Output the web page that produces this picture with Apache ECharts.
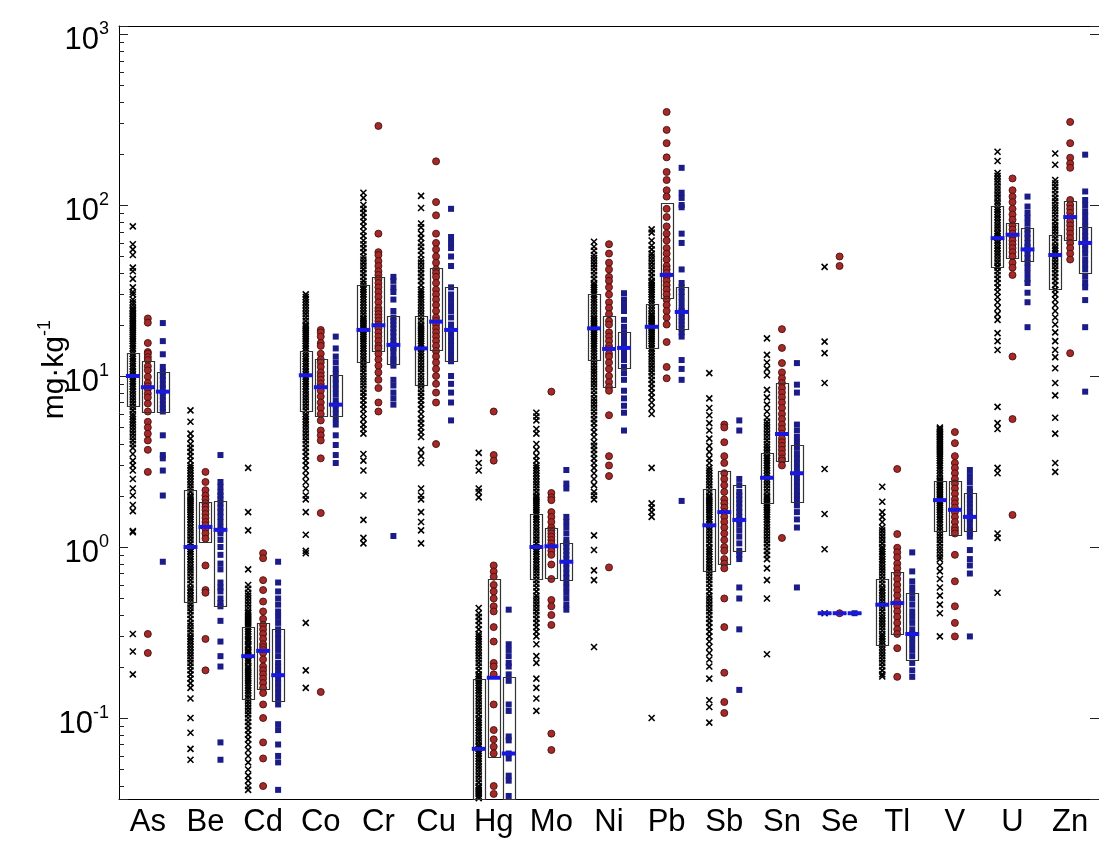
<!DOCTYPE html>
<html><head><meta charset="utf-8">
<script src="https://cdn.jsdelivr.net/npm/echarts@6.0.0/dist/echarts.min.js"></script>
<style>html,body{margin:0;padding:0;background:#fff}#c{width:1099px;height:841px}</style>
</head><body><div id="c"></div><script>
const categories = ['As','Be','Cd','Co','Cr','Cu','Hg','Mo','Ni','Pb','Sb','Sn','Se','Tl','V','U','Zn'];

const blackPts = [
 [75,59,55,51,43,41,37,33,31,30,28,27,26,25,24.5,24,23.5,23,22.5,22,21.5,21,20.5,20,19.5,19,18.5,18,17.5,17,16.5,16,15.5,15,14.5,14,13.5,13,12.6,12.2,11.8,11.4,11,10.6,10.2,9.9,9.6,9.3,9,8.7,8.4,8.1,7.8,7.5,7.2,6.9,6.6,6.3,6,5.8,5.6,5.4,5.2,5,4.8,4.6,4.4,4.2,4,3.8,3.5,3.2,3,2.8,2.5,2.2,2.0,1.76,1.62,1.24,1.22,0.31,0.245,0.18],
 [6.3,5.4,4.6,4.3,4.0,3.8,3.6,3.4,3.2,3.0,2.9,2.8,2.7,2.6,2.5,2.4,2.3,2.2,2.1,2.0,1.95,1.9,1.85,1.8,1.75,1.7,1.65,1.6,1.55,1.5,1.45,1.4,1.35,1.3,1.25,1.2,1.15,1.1,1.05,1.0,0.97,0.94,0.91,0.88,0.85,0.82,0.79,0.76,0.73,0.7,0.67,0.64,0.61,0.58,0.56,0.54,0.52,0.5,0.48,0.46,0.44,0.42,0.4,0.38,0.36,0.345,0.33,0.315,0.3,0.29,0.28,0.27,0.26,0.25,0.24,0.23,0.22,0.21,0.2,0.19,0.18,0.17,0.16,0.15,0.13,0.1,0.082,0.066,0.057],
 [2.9,1.6,1.25,0.74,0.6,0.57,0.54,0.52,0.5,0.48,0.46,0.44,0.42,0.41,0.4,0.39,0.38,0.37,0.36,0.35,0.34,0.33,0.32,0.31,0.3,0.29,0.285,0.28,0.27,0.265,0.26,0.25,0.245,0.24,0.235,0.23,0.22,0.215,0.21,0.2,0.195,0.19,0.185,0.18,0.175,0.17,0.165,0.16,0.155,0.15,0.145,0.14,0.135,0.13,0.125,0.12,0.115,0.11,0.105,0.1,0.095,0.09,0.085,0.08,0.075,0.07,0.065,0.06,0.055,0.05,0.046,0.043,0.04,0.038],
 [30,29,28,27,26,25,24,23,22,21,20,19.5,19,18.5,18,17.5,17,16.5,16,15.5,15,14.5,14,13.5,13,12.6,12.2,11.8,11.4,11,10.6,10.2,9.9,9.6,9.3,9,8.7,8.4,8.1,7.8,7.5,7.2,6.9,6.6,6.3,6,5.8,5.6,5.4,5.2,5,4.8,4.6,4.4,4.2,4,3.8,3.6,3.4,3.2,3.0,2.8,2.6,2.4,2.2,2.0,1.9,1.6,1.18,0.95,0.92,0.36,0.19,0.15],
 [118,110,100,95,90,85,80,75,70,66,62,59,56,53,50,48,46,44,42,40,38,36,34.5,33,32,31,30,29,28,27,26,25,24,23,22,21.5,21,20.5,20,19.5,19,18.5,18,17.5,17,16.5,16,15.5,15,14.5,14,13.5,13,12.5,12,11.5,11,10.5,10,9.6,9.2,8.8,8.4,8,7.6,7.2,6.8,6.4,6,5.6,5.2,4.9,4.6,3.5,3.2,2.8,2.0,1.44,1.13,1.05],
 [113,96,78,74,68,64,60,57,54,51,48,46,44,42,40,38,36,34,32,31,30,29,28,27,26,25,24,23,22,21,20,19.5,19,18.5,18,17.5,17,16.5,16,15.5,15,14.5,14,13.5,13,12.5,12,11.5,11,10.5,10,9.6,9.2,8.8,8.4,8,7.6,7.2,6.8,6.4,6,5.6,5.3,5,4.7,4.4,3.7,3.4,3.1,2.2,2.0,1.9,1.6,1.4,1.25,1.05],
 [3.55,3.1,2.8,2.2,2.1,1.95,0.44,0.41,0.39,0.37,0.35,0.33,0.31,0.3,0.29,0.28,0.27,0.26,0.25,0.24,0.23,0.22,0.21,0.2,0.19,0.18,0.175,0.17,0.165,0.16,0.155,0.15,0.145,0.14,0.135,0.13,0.125,0.12,0.115,0.11,0.105,0.1,0.097,0.094,0.091,0.088,0.085,0.082,0.079,0.076,0.073,0.07,0.068,0.066,0.064,0.062,0.06,0.058,0.056,0.054,0.052,0.05,0.048,0.046,0.044,0.042,0.04,0.039,0.038,0.037,0.036,0.035,0.034],
 [6.1,5.8,5.5,4.9,4.6,4.0,3.7,3.4,3.2,3.0,2.9,2.8,2.7,2.6,2.5,2.4,2.3,2.2,2.1,2.0,1.95,1.9,1.85,1.8,1.75,1.7,1.65,1.6,1.55,1.5,1.45,1.4,1.35,1.3,1.25,1.2,1.15,1.1,1.05,1.0,0.97,0.94,0.91,0.88,0.85,0.82,0.79,0.76,0.73,0.7,0.67,0.64,0.61,0.58,0.55,0.52,0.5,0.48,0.46,0.44,0.42,0.4,0.38,0.36,0.34,0.32,0.3,0.27,0.23,0.21,0.17,0.15,0.13,0.11],
 [61,57,54,51,49,47,45,43,41,39,37,35,34,33,32,31,30,29,28,27,26,25,24,23,22,21.5,21,20.5,20,19.5,19,18.5,18,17.5,17,16.5,16,15.5,15,14.5,14,13.5,13,12.5,12,11.5,11,10.6,10.2,9.8,9.4,9,8.6,8.2,7.8,7.4,7.1,6.8,6.5,6.2,5.9,5.6,5.3,5,4.7,4.4,4.1,3.9,3.7,3.5,3.3,3.1,2.9,2.7,2.5,2.3,2.1,2.0,1.9,1.17,0.96,0.73,0.64,0.26],
 [72,69,62,58,55,52,50,48,46,44,42,40,38,36,35,34,33,32,31,30,29,28,27,26,25,24,23,22.5,22,21.5,21,20.5,20,19.5,19,18.5,18,17.5,17,16.5,16,15.5,15,14.5,14,13.5,13,12.5,12,11.5,11,10.5,10,9.5,9,8.5,8,7.5,7,6.5,6,2.9,1.8,1.7,1.6,1.5,0.1],
 [10.4,7.4,6.5,5.9,5.3,4.8,4.3,3.9,3.6,3.3,3.1,2.9,2.8,2.7,2.6,2.5,2.4,2.3,2.2,2.1,2.0,1.95,1.9,1.85,1.8,1.75,1.7,1.65,1.6,1.55,1.5,1.45,1.4,1.35,1.3,1.25,1.2,1.15,1.1,1.05,1.0,0.97,0.94,0.91,0.88,0.85,0.82,0.79,0.76,0.73,0.7,0.67,0.64,0.61,0.58,0.55,0.52,0.5,0.48,0.46,0.44,0.42,0.4,0.38,0.36,0.34,0.32,0.3,0.28,0.26,0.24,0.22,0.2,0.17,0.127,0.116,0.094],
 [16.6,13.3,12,11,10.1,8.3,7.5,6.8,6.2,5.7,5.4,5.2,5,4.8,4.6,4.4,4.2,4.0,3.85,3.7,3.55,3.4,3.3,3.2,3.1,3.0,2.9,2.8,2.7,2.6,2.5,2.4,2.3,2.2,2.1,2.0,1.95,1.9,1.85,1.8,1.75,1.7,1.65,1.6,1.55,1.5,1.45,1.4,1.35,1.3,1.25,1.2,1.15,1.1,1.05,1.0,0.95,0.9,0.85,0.75,0.64,0.5,0.236],
 [43.5,15.9,13.6,9.1,2.86,1.56,0.97,0.41],
 [2.25,1.84,1.6,1.5,1.4,1.3,1.25,1.2,1.15,1.1,1.05,1.0,0.97,0.94,0.91,0.88,0.85,0.82,0.79,0.76,0.73,0.7,0.67,0.64,0.61,0.58,0.56,0.54,0.52,0.5,0.48,0.46,0.44,0.42,0.4,0.385,0.37,0.355,0.34,0.325,0.31,0.3,0.29,0.28,0.27,0.26,0.25,0.24,0.23,0.22,0.21,0.2,0.19,0.18,0.175],
 [5.0,4.9,4.8,4.7,4.6,4.5,4.4,4.3,4.2,4.1,4.0,3.9,3.8,3.7,3.6,3.5,3.4,3.3,3.2,3.1,3.0,2.9,2.8,2.7,2.6,2.5,2.45,2.4,2.35,2.3,2.25,2.2,2.15,2.1,2.05,2.0,1.95,1.9,1.85,1.8,1.75,1.7,1.65,1.6,1.55,1.5,1.45,1.4,1.35,1.3,1.25,1.2,1.15,1.1,1.05,1.0,0.96,0.92,0.88,0.85,0.78,0.72,0.65,0.58,0.52,0.46,0.41,0.3],
 [205,181,154,148,142,136,130,125,120,115,110,105,101,97,94,91,88,85,82,79,76,73,70,68,66,64,62,60,58,56,54,52,50,48,46,44,43,41,39,37,35,33,31,29,27,25,23,21.3,17.8,16,14.2,6.6,5.3,4.9,2.9,2.7,1.2,1.13,0.54],
 [200,172,140,134,128,122,116,110,105,100,96,92,88,84,80,76,73,70,67,64,61,58,56,54,52,50,48,46,44,42,40,38,36,34,32,30,28,26,24,22,20,18,16,14.2,12.9,11.1,9.1,7.7,5.7,4.6,3.1,2.75]
];

const redPts = [
 [21.7,20.5,15.6,13.8,13.5,12.9,12.4,11.4,10.8,9.9,9.1,8.7,8.4,7.9,7.5,6.9,6.2,5.4,5.0,4.6,4.2,3.7,2.75,0.31,0.24],
 [2.75,2.4,2.15,2.0,1.9,1.8,1.72,1.65,1.56,1.48,1.4,1.34,1.28,1.2,1.12,0.78,0.56,0.54,0.29,0.19],
 [0.92,0.86,0.64,0.56,0.48,0.42,0.38,0.35,0.33,0.31,0.29,0.27,0.26,0.25,0.24,0.22,0.2,0.19,0.18,0.17,0.16,0.15,0.14,0.12,0.1,0.072,0.058,0.04],
 [18.6,18,17,15.6,15,13.5,12.5,12,11.3,10.5,10,9.5,9,8.6,8.2,7.6,7,6.5,6,5.5,4.8,4.5,4.2,3.3,1.58,0.142],
 [290,68,53,51,47,44,41,39,37,35,33,31,29,27,25,24,23,22,21,20,19.5,19,18,17,16,15,14.5,13.5,12.5,11.5,10.5,9.5,8.5,7,6.2],
 [180,104,87,68,60,55,50,46,42,40,38,35,32,30,28,26,24,22,21,20,19,18,17,16,15,14,13,12,11,10,9,8,7,4.0],
 [6.2,3.45,3.2,0.78,0.72,0.67,0.6,0.55,0.5,0.45,0.42,0.34,0.28,0.21,0.2,0.18,0.12,0.085,0.075,0.068,0.062,0.04,0.036],
 [8.1,2.07,1.95,1.88,1.6,1.5,1.4,1.3,1.25,1.2,1.15,1.1,1.05,1.0,0.95,0.9,0.79,0.65,0.49,0.45,0.4,0.35,0.081,0.065],
 [59,52,46,42,38,36,33,30,27,25,23,21,20,18,17,16,15,14.4,13.5,13,12,11,10,9.2,8.6,8.2,5.9,3.4,3.0,2.6,0.76],
 [350,275,230,190,156,140,122,112,95,85,75,68,62,56,52,48,44,42,40,38,36,34,32,30,28,26,24,22,20,15.8,11.3,9.7],
 [5.2,5.0,4.1,3.4,3.1,2.7,2.5,2.3,2.1,1.9,1.8,1.7,1.6,1.5,1.4,1.3,1.2,1.1,1.0,0.95,0.85,0.8,0.75,0.5,0.34,0.184,0.124,0.107],
 [18.8,14.6,11.9,10.5,9.7,9.1,8.5,8,7.5,7,6.5,6,5.6,5.2,4.9,4.6,4.3,4.1,3.9,3.7,3.5,3.3,3.2,3.0,1.13],
 [50,44,0.41],
 [2.86,1.19,0.99,0.93,0.87,0.8,0.75,0.7,0.65,0.6,0.56,0.52,0.48,0.45,0.42,0.39,0.36,0.33,0.31,0.256,0.174],
 [4.7,4.05,3.4,3.1,2.9,2.7,2.5,2.35,2.2,2.05,1.9,1.8,1.7,1.6,1.5,1.4,1.3,1.25,1.2,0.9,0.63,0.45,0.36,0.3],
 [143,122,112,104,95,88,82,76,72,68,65,62,59,56,53,50,46,43,39,13,5.6,1.54],
 [306,230,189,175,165,107,100,95,90,85,80,76,72,68,64,60,56,52,48,13.6]
];

const bluePts = [
 [20.4,16,13.4,11.3,10.6,10,9.5,8.9,8.5,8,7.6,7.2,6.8,6.5,6.2,4.5,3.45,3.3,2.8,2.0,0.82],
 [3.45,2.4,2.25,2.1,2.0,1.9,1.8,1.7,1.6,1.5,1.4,1.3,1.25,1.2,1.1,1.0,0.9,0.8,0.74,0.62,0.58,0.55,0.5,0.47,0.45,0.37,0.28,0.23,0.2,0.072,0.057],
 [0.82,0.62,0.55,0.5,0.46,0.42,0.39,0.36,0.33,0.31,0.29,0.27,0.25,0.23,0.21,0.2,0.19,0.18,0.17,0.16,0.15,0.14,0.13,0.12,0.092,0.085,0.07,0.06,0.055,0.038],
 [17,14.5,13,12,11,10.3,9.6,9,8.4,7.8,7.2,6.8,6.4,6,5.6,5.2,4.5,3.95,3.45,3.1],
 [38,36,33,31,28,24,22,21,20,19,18,17,16,15.2,14.5,14,13,12.5,12,11.5,9.5,8.8,8,7.4,6.8,1.16],
 [95,65,60,56,50,44,33,30,28,26,24,22,20,19,18,17,16,15,14,13,12.2,10,9,8,7,5.5],
 [0.43,0.27,0.25,0.23,0.21,0.2,0.18,0.165,0.12,0.11,0.078,0.074,0.062,0.058,0.046,0.043,0.035],
 [2.82,2.35,2.2,1.5,1.4,1.3,1.2,1.1,1.05,1.0,0.95,0.9,0.85,0.8,0.75,0.7,0.66,0.62,0.58,0.54,0.5,0.46,0.43],
 [30.5,28,26,24,21.3,19.4,18,17,16,15,14.6,14,13.2,12.4,11.3,10.4,9.5,8.2,7.4,6.7,6.1,4.8],
 [165,118,110,100,97,68,60,42,35,33,31,29,27,25,24,23,22,21,20,19,18,17,12.4,11,9.5,1.86],
 [5.5,4.8,2.5,2.3,2.1,2.0,1.9,1.8,1.7,1.6,1.5,1.44,1.35,1.25,1.15,1.05,0.95,0.9,0.85,0.58,0.5,0.33,0.146],
 [11.9,8.9,8.0,5.2,4.8,4.4,4.1,3.8,3.5,3.3,3.1,2.9,2.7,2.55,2.4,2.25,2.1,2.0,1.9,1.75,1.6,1.45,1.3,0.58],
 [0.41],
 [0.93,0.72,0.63,0.58,0.54,0.5,0.46,0.42,0.39,0.36,0.33,0.31,0.29,0.27,0.25,0.23,0.21,0.19,0.174],
 [2.82,2.6,2.4,2.2,2.1,2.0,1.9,1.8,1.7,1.6,1.5,1.45,1.4,1.3,1.25,1.2,1.15,0.96,0.85,0.78,0.7,0.3],
 [112,98,90,84,78,72,68,64,60,57,55,52,49,46,43,40,37,35,30.7,27,19.3],
 [197,120,107,100,92,86,80,75,70,66,62,58,55,52,48,45,42,38,35,33,27.8,19.3,8.1]
];

// [Q1, median, Q3] per element
const blackBox = [[6.7,10,13.7],[0.477,1.0,2.15],[0.129,0.23,0.34],[6.2,10.1,14],[12.1,18.6,34],[8.8,14.5,22.3],[0.03,0.066,0.17],[0.65,1.0,1.56],[12.4,19.0,30],[14.5,19.4,26.2],[0.72,1.34,2.18],[1.82,2.54,3.55],[0.41,0.41,0.41],[0.267,0.46,0.65],[1.24,1.88,2.44],[43.3,64,99],[32.3,51,67]];
const redBox = [[6.2,8.6,12.3],[1.07,1.31,1.84],[0.148,0.247,0.36],[5.85,8.6,12.6],[14.1,19.8,38],[14.1,20.8,42.7],[0.059,0.172,0.65],[0.66,1.01,1.29],[8.6,14.4,22.5],[28.6,39,103],[0.8,1.6,2.8],[3.18,4.58,9.1],[0.41,0.41,0.41],[0.31,0.47,0.71],[1.18,1.65,2.44],[49,67,79],[63,85,106]];
const blueBox = [[6.1,8.1,10.5],[0.45,1.26,1.86],[0.125,0.178,0.33],[5.8,6.8,10.1],[11.8,15.2,22.4],[12.2,18.6,33],[0.03,0.062,0.174],[0.64,0.82,1.06],[11.2,14.6,18.1],[18.8,23.7,33],[0.94,1.44,2.3],[1.84,2.7,3.95],[0.41,0.41,0.41],[0.218,0.31,0.54],[1.24,1.5,2.06],[47,55,73],[40,60,74]];

const yMin = 0.0336, yMax = 1114;
const minorTickValues = [0.04,0.05,0.06,0.07,0.08,0.09,0.2,0.3,0.4,0.5,0.6,0.7,0.8,0.9,2,3,4,5,6,7,8,9,20,30,40,50,60,70,80,90,200,300,400,500,600,700,800,900];

const FONT = "'Liberation Sans',Arial,sans-serif";
const OFFSETS = [-0.26, 0, 0.26];
const HALF = 0.105;

function toPts(list, off){const d=[];list.forEach((vals,i)=>vals.forEach(v=>d.push([i+1+off,v])));return d;}
function toBoxes(list, off){return list.map((b,i)=>[i+1+off,b[0],b[1],b[2]]);}

function renderBox(params, api){
  const x = api.value(0);
  const a = api.coord([x-HALF, api.value(3)]);
  const b = api.coord([x+HALF, api.value(1)]);
  const cs = params.coordSys;
  const bottom = cs.y + cs.height;
  const y0 = Math.max(a[1], cs.y), y1 = Math.min(b[1], bottom);
  return {type:'rect', shape:{x:Math.round(a[0])+0.5, y:Math.round(y0)+0.5, width:Math.round(b[0]-a[0]), height:Math.round(y1-y0)},
    style:{fill:'none', stroke:'#333', lineWidth:1.2}};
}
function renderMed(params, api){
  const x = api.value(0);
  const a = api.coord([x-HALF-0.015, api.value(2)]);
  const b = api.coord([x+HALF+0.015, api.value(2)]);
  return {type:'rect', shape:{x:a[0], y:a[1]-2, width:b[0]-a[0], height:4}, style:{fill:'#1818e0'}};
}
function renderMinor(params, api){
  const p = api.coord([0.5, api.value(0)]);
  return {type:'line', shape:{x1:p[0], y1:Math.round(p[1])+0.5, x2:p[0]+5, y2:Math.round(p[1])+0.5}, style:{stroke:'#222', lineWidth:1}};
}

function boxSeries(list, off){
  return [
    {type:'custom', xAxisIndex:1, yAxisIndex:0, data:toBoxes(list,off), renderItem:renderBox, encode:{x:0,y:2}, z:5, silent:true},
    {type:'custom', xAxisIndex:1, yAxisIndex:0, data:toBoxes(list,off), renderItem:renderMed, encode:{x:0,y:2}, z:6, silent:true}
  ];
}

const chart = echarts.init(document.getElementById('c'), null, {renderer:'canvas'});
chart.setOption({
  animation:false,
  backgroundColor:'#fff',
  grid:{left:119, top:26, width:985, height:773},
  graphic:[{type:'text', left:36, top:320, rotation:Math.PI/2, silent:true,
    style:{text:'{a|mg·kg}{s|-1}', rich:{a:{fontFamily:FONT, fontSize:30, fill:'#000', lineHeight:34, verticalAlign:'bottom'},
                                         s:{fontFamily:FONT, fontSize:18, fill:'#000', lineHeight:19, verticalAlign:'top'}}}}],
  xAxis:[
    {type:'category', data:categories, position:'bottom', boundaryGap:true,
     axisLine:{lineStyle:{color:'#000', width:1}},
     axisTick:{alignWithLabel:true, inside:true, length:6, lineStyle:{color:'#222'}},
     axisLabel:{fontFamily:FONT, fontSize:31, color:'#000', margin:8, interval:0},
     splitLine:{show:false}},
    {type:'value', min:0.5, max:17.5, show:false},
    {type:'category', data:categories, position:'top', boundaryGap:true,
     axisLine:{lineStyle:{color:'#000', width:1}},
     axisTick:{alignWithLabel:true, inside:true, length:6, lineStyle:{color:'#222'}},
     axisLabel:{show:false}, splitLine:{show:false}}
  ],
  yAxis:[
    {type:'log', logBase:10, min:yMin, max:yMax, position:'left',
     axisLine:{show:true, lineStyle:{color:'#000', width:1}},
     axisTick:{show:true, inside:true, length:9, lineStyle:{color:'#222'}},
     splitLine:{show:false},
     axisLabel:{margin:10, padding:[8,0,0,0], formatter:function(v){const l=Math.log10(v);const e=Math.round(l);if(Math.abs(l-e)>1e-6)return '';return '{b|10}{s|'+e+'}';},
       rich:{b:{fontFamily:FONT, fontSize:31, color:'#000', lineHeight:36, verticalAlign:'bottom'},
             s:{fontFamily:FONT, fontSize:18, color:'#000', lineHeight:20, verticalAlign:'top'}}}},
    {type:'log', logBase:10, min:yMin, max:yMax, position:'right',
     axisLine:{show:true, lineStyle:{color:'#000', width:1}},
     axisTick:{show:true, inside:true, length:9, lineStyle:{color:'#222'}},
     axisLabel:{show:false}, splitLine:{show:false}}
  ],
  series:[
    {type:'scatter', xAxisIndex:1, yAxisIndex:0, data:toPts(blackPts,OFFSETS[0]), symbol:'path://M0,0L10,10M10,0L0,10', symbolSize:6,
     itemStyle:{color:'none', borderColor:'#000', borderWidth:1.6, opacity:1}, silent:true, z:2},
    {type:'scatter', xAxisIndex:1, yAxisIndex:0, data:toPts(redPts,OFFSETS[1]), symbol:'circle', symbolSize:7,
     itemStyle:{color:'#a32a28', borderColor:'#4a0e0e', borderWidth:0.9, opacity:1}, silent:true, z:3},
    {type:'scatter', xAxisIndex:1, yAxisIndex:0, data:toPts(bluePts,OFFSETS[2]), symbol:'rect', symbolSize:6,
     itemStyle:{color:'#1c1c88', opacity:1}, silent:true, z:3},
    ...boxSeries(blackBox,OFFSETS[0]),
    ...boxSeries(redBox,OFFSETS[1]),
    ...boxSeries(blueBox,OFFSETS[2]),
    {type:'custom', xAxisIndex:1, yAxisIndex:0, data:minorTickValues.map(v=>[v]), renderItem:renderMinor, encode:{y:0}, z:7, silent:true}
  ]
});
</script></body></html>
